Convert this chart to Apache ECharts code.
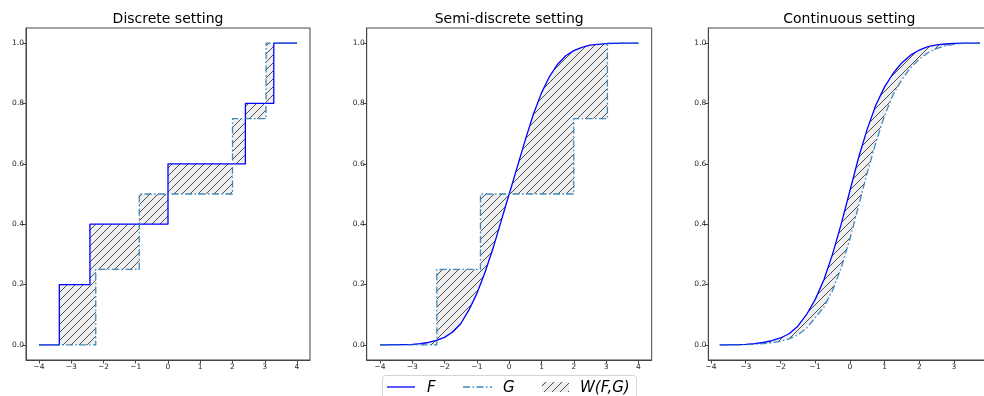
<!DOCTYPE html>
<html><head><meta charset="utf-8">
<script src="https://cdn.jsdelivr.net/npm/echarts@6/dist/echarts.min.js"></script>
<style>html,body{margin:0;padding:0;background:#fff}#c{width:984px;height:396px}</style>
</head><body><div id="c"></div>
<script>
// ---------- data ----------
const xTicks = [-4, -3, -2, -1, 0, 1, 2, 3, 4];
const yTicks = [0, 0.2, 0.4, 0.6, 0.8, 1.0];
const titles = ['Discrete setting', 'Semi-discrete setting', 'Continuous setting'];
const legendLabels = ['F', 'G', 'W(F,G)'];

// Discrete setting: step CDFs (value holds from x[i] until x[i+1])
const discFX = [-4, -3.37, -2.42, 0.0, 2.40, 3.28, 4];
const discFY = [0, 0.2, 0.4, 0.6, 0.8, 1.0, 1.0];
const discGX = [-4, -2.24, -0.89, 2.0, 3.04, 4];
const discGY = [0, 0.25, 0.5, 0.75, 1.0, 1.0];

// Semi-discrete setting
const semiFX = [-4, -3.75, -3.5, -3.25, -3, -2.75, -2.5, -2.25, -2, -1.75, -1.5, -1.25, -1, -0.75, -0.5, -0.25, 0,
  0.25, 0.5, 0.75, 1, 1.25, 1.5, 1.75, 2, 2.25, 2.5, 2.75, 3, 3.25, 3.5, 3.75, 4];
const semiFY = [0, 0, 0.001, 0.001, 0.002, 0.004, 0.008, 0.015, 0.025, 0.043, 0.07, 0.115, 0.17, 0.24, 0.32, 0.41, 0.5,
  0.59, 0.68, 0.765, 0.835, 0.89, 0.93, 0.958, 0.975, 0.986, 0.993, 0.996, 0.998, 0.999, 1, 1, 1];
const semiGX = [-4, -2.24, -0.89, 2.0, 3.04, 4];
const semiGY = [0, 0.25, 0.5, 0.75, 1.0, 1.0];

// Continuous setting
const contX = [-3.75, -3.5, -3.25, -3, -2.75, -2.5, -2.25, -2, -1.75, -1.5, -1.25, -1, -0.75, -0.5, -0.25, 0,
  0.25, 0.5, 0.75, 1, 1.25, 1.5, 1.75, 2, 2.25, 2.5, 2.75, 3, 3.25, 3.5, 3.75];
const contFY = [0, 0, 0.001, 0.002, 0.004, 0.008, 0.014, 0.023, 0.037, 0.062, 0.10, 0.15, 0.215, 0.30, 0.40, 0.51,
  0.62, 0.715, 0.795, 0.855, 0.90, 0.935, 0.96, 0.977, 0.988, 0.994, 0.997, 0.999, 1, 1, 1];
const contGY = [0, 0, 0, 0.001, 0.002, 0.004, 0.007, 0.012, 0.02, 0.033, 0.055, 0.09, 0.125, 0.18, 0.255, 0.35,
  0.46, 0.57, 0.67, 0.76, 0.83, 0.88, 0.918, 0.947, 0.968, 0.982, 0.991, 0.996, 0.999, 1, 1];

// ---------- helpers ----------
const FONT = 'DejaVu Sans';
const F_COLOR = '#0000ff';
const G_COLOR = '#1f77b4';
const G_DASH = [7, 2.5, 1.5, 2.5];

function makeHatch() {
  const c = document.createElement('canvas');
  const s = 8;
  c.width = s; c.height = s;
  const g = c.getContext('2d');
  g.fillStyle = '#efefef';
  g.fillRect(0, 0, s, s);
  g.strokeStyle = '#3a3a3a';
  g.lineWidth = 0.9;
  g.beginPath();
  g.moveTo(0, s); g.lineTo(s, 0);
  g.moveTo(-1, 1); g.lineTo(1, -1);
  g.moveTo(s - 1, s + 1); g.lineTo(s + 1, s - 1);
  g.stroke();
  return c;
}
const hatchCanvas = makeHatch();
const hatchFill = { image: hatchCanvas, repeat: 'repeat' };

function stepPts(xs, ys) {
  const p = [];
  for (let i = 0; i < xs.length; i++) {
    p.push([xs[i], ys[i]]);
    if (i < xs.length - 1) p.push([xs[i + 1], ys[i]]);
  }
  return p;
}
function linePts(xs, ys) { return xs.map((x, i) => [x, ys[i]]); }

function hatchSeries(idx, upper, lower) {
  return {
    type: 'custom', xAxisIndex: idx, yAxisIndex: idx, data: [[0, 0]], clip: true, z: 1, silent: true,
    renderItem: function (params, api) {
      const pts = upper.concat(lower.slice().reverse()).map(p => api.coord(p));
      return { type: 'polygon', shape: { points: pts }, style: { fill: hatchFill, stroke: null } };
    }
  };
}
function fLine(idx, pts, step) {
  return {
    type: 'line', xAxisIndex: idx, yAxisIndex: idx, data: pts, step: step || false, showSymbol: false,
    symbol: 'none', z: 4, silent: true, lineStyle: { color: F_COLOR, width: 1.3 }
  };
}
function gLine(idx, pts, step) {
  return {
    type: 'line', xAxisIndex: idx, yAxisIndex: idx, data: pts, step: step || false, showSymbol: false,
    symbol: 'none', z: 5, silent: true, lineStyle: { color: G_COLOR, width: 1.3, type: G_DASH, opacity: 0.85 }
  };
}

const grids = [
  { left: 26, top: 28, width: 284, height: 332 },
  { left: 366.7, top: 28, width: 285, height: 332 },
  { left: 708.3, top: 28, width: 284, height: 332 }
];
const xRanges = [[-4.403, 4.403], [-4.41, 4.41], [-4.078, 4.104]];

const minus = v => (v < 0 ? '\u2212' + Math.abs(v) : String(v));

const xAxes = grids.map((g, i) => ({
  type: 'value', gridIndex: i, min: xRanges[i][0], max: xRanges[i][1],
  splitLine: { show: false },
  axisLine: { show: true, onZero: false, lineStyle: { color: '#444', width: 1 } },
  axisTick: { show: true, length: 3.5, lineStyle: { color: '#444' }, customValues: xTicks },
  axisLabel: { customValues: xTicks, formatter: minus, fontSize: 7.5, fontFamily: FONT, color: '#262626', margin: 3 }
}));
const yAxes = grids.map((g, i) => ({
  type: 'value', gridIndex: i, min: -0.05, max: 1.05,
  splitLine: { show: false },
  axisLine: { show: true, onZero: false, lineStyle: { color: '#444', width: 1 } },
  axisTick: { show: true, length: 3.5, lineStyle: { color: '#444' }, customValues: yTicks },
  axisLabel: { customValues: yTicks, formatter: v => v.toFixed(1), fontSize: 7.5, fontFamily: FONT, color: '#262626', margin: 2 }
}));

const series = [
  hatchSeries(0, stepPts(discFX, discFY), stepPts(discGX, discGY)),
  fLine(0, linePts(discFX, discFY), 'end'),
  gLine(0, linePts(discGX, discGY), 'end'),
  hatchSeries(1, linePts(semiFX, semiFY), stepPts(semiGX, semiGY)),
  fLine(1, linePts(semiFX, semiFY)),
  gLine(1, linePts(semiGX, semiGY), 'end'),
  hatchSeries(2, linePts(contX, contFY), linePts(contX, contGY)),
  fLine(2, linePts(contX, contFY)),
  gLine(2, linePts(contX, contGY))
];

const graphic = [];
grids.forEach((g, i) => {
  graphic.push({
    type: 'text', x: g.left + g.width / 2 + (i === 2 ? -1 : 0), y: 19, z: 10,
    style: { text: titles[i], fontSize: 14, fontFamily: FONT, fill: '#000', align: 'center', verticalAlign: 'middle' }
  });
});
// legend box
const LY = 387;
graphic.push({ type: 'rect', shape: { x: 382.5, y: 375.5, width: 254, height: 30, r: 3 }, z: 10,
  style: { fill: '#fff', stroke: '#d5d5d5', lineWidth: 1 } });
graphic.push({ type: 'line', shape: { x1: 387, y1: LY, x2: 415, y2: LY }, z: 11, style: { stroke: F_COLOR, lineWidth: 1.3 } });
graphic.push({ type: 'text', x: 427, y: LY + 1, z: 11, style: { text: legendLabels[0], fontSize: 15, fontStyle: 'italic', fontFamily: FONT, fill: '#000', verticalAlign: 'middle' } });
graphic.push({ type: 'line', shape: { x1: 463, y1: LY, x2: 492, y2: LY }, z: 11, style: { stroke: G_COLOR, lineWidth: 1.3, lineDash: G_DASH, opacity: 0.85 } });
graphic.push({ type: 'text', x: 503, y: LY + 1, z: 11, style: { text: legendLabels[1], fontSize: 15, fontStyle: 'italic', fontFamily: FONT, fill: '#000', verticalAlign: 'middle' } });
graphic.push({ type: 'rect', shape: { x: 542, y: 382, width: 27, height: 10 }, z: 11, style: { fill: hatchFill, stroke: null } });
graphic.push({ type: 'text', x: 580, y: LY + 1, z: 11, style: { text: legendLabels[2], fontSize: 15, fontStyle: 'italic', fontFamily: FONT, fill: '#000', verticalAlign: 'middle' } });

const chart = echarts.init(document.getElementById('c'), null, { renderer: 'canvas' });
chart.setOption({
  animation: false,
  backgroundColor: '#fff',
  grid: grids.map(g => Object.assign({ show: true, borderColor: '#444', borderWidth: 1, backgroundColor: 'transparent', outerBoundsMode: 'none', containLabel: false }, g)),
  xAxis: xAxes,
  yAxis: yAxes,
  series: series,
  graphic: graphic
});
</script>
</body></html>
